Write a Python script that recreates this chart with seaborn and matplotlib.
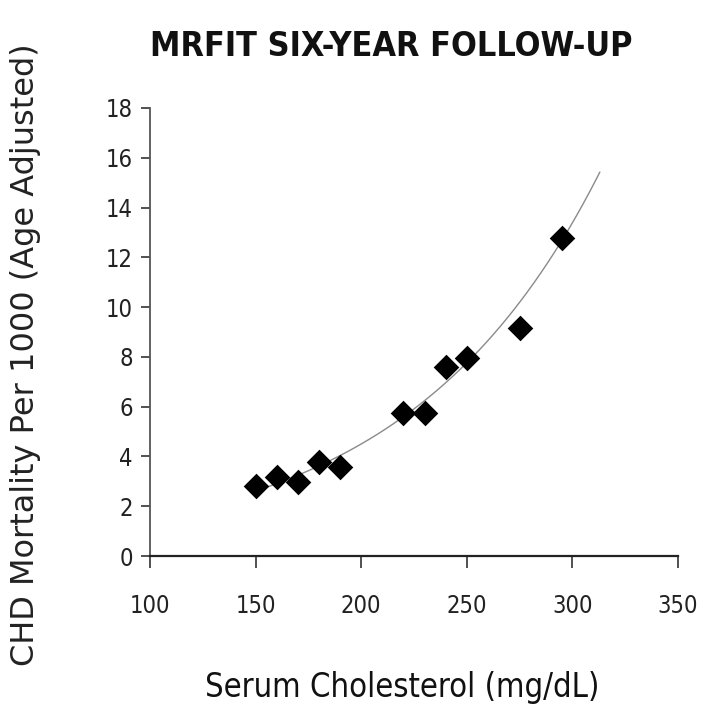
import numpy as np
import pandas as pd
import matplotlib
matplotlib.use("Agg")
import matplotlib.pyplot as plt
import seaborn as sns

# Data
cholesterol = [150, 160, 170, 180, 190, 220, 230, 240, 250, 275, 295]
mortality = [2.8, 3.16, 2.96, 3.79, 3.57, 5.76, 5.74, 7.61, 7.97, 9.18, 12.77]

# Points
curve_x = [150, 190, 220, 250, 275, 295, 313]
curve_y = [2.7, 3.9, 5.6, 7.8, 9.7, 12.77, 16.0]

x_ticks = [100, 150, 200, 250, 300, 350]
y_ticks = [0, 2, 4, 6, 8, 10, 12, 14, 16, 18]

title = "MRFIT SIX-YEAR FOLLOW-UP"
xlabel = "Serum Cholesterol (mg/dL)"
ylabel = "CHD Mortality Per 1000 (Age Adjusted)"

sns.set_theme(style="white")
narrow = ["DejaVu Sans"]
plt.rcParams["font.family"] = narrow
plt.rcParams["font.stretch"] = "condensed"

fig = plt.figure(figsize=(7.01, 7.10), dpi=100)
ax = fig.add_axes([150 / 701, 1 - 556 / 710, (678 - 150) / 701, (556 - 108) / 710])

# Trend curve (exponential fit to curve points)
b, ln_a = np.polyfit(curve_x, np.log(curve_y), 1)
xs = np.linspace(min(curve_x), max(curve_x), 200)
trend = pd.DataFrame({"x": xs, "y": np.exp(ln_a + b * xs)})
sns.lineplot(data=trend, x="x", y="y", ax=ax, color="#8a8a8a", linewidth=1.0)

df = pd.DataFrame({"chol": cholesterol, "mort": mortality})
sns.scatterplot(data=df, x="chol", y="mort", ax=ax, marker="D", s=170,
                color="black", edgecolor="black", linewidth=0, zorder=3)

ax.set_xlim(100, 350)
ax.set_ylim(0, 18)
ax.set_xticks(x_ticks)
ax.set_yticks(y_ticks)
ax.set_xticklabels([str(v) for v in x_ticks], fontsize=17, color="#222222",
                   fontstretch="condensed")
ax.set_yticklabels([str(v) for v in y_ticks], fontsize=17, color="#222222",
                   fontstretch="condensed")
ax.tick_params(axis="x", bottom=True, direction="out", length=8.5, width=1.2,
               color="#333333", pad=19)
ax.tick_params(axis="y", left=True, direction="out", length=6.5, width=1.2,
               color="#333333", pad=6)
ax.set_xlabel("")
ax.set_ylabel("")
for side in ["top", "right"]:
    ax.spines[side].set_visible(False)
ax.spines["left"].set_color("#555555")
ax.spines["left"].set_linewidth(1.3)
ax.spines["bottom"].set_color("#222222")
ax.spines["bottom"].set_linewidth(1.6)
ax.grid(False)

fig.text(391 / 701, 1 - 47 / 710, title, ha="center", va="center",
         fontsize=24.5, fontweight="bold", color="#111111", fontstretch="condensed")
fig.text(402 / 701, 1 - 688 / 710, xlabel, ha="center", va="center",
         fontsize=23.5, color="#111111", fontstretch="condensed")
fig.text(25.5 / 701, 1 - 355 / 710, ylabel, ha="center", va="center", rotation=90,
         fontsize=23, color="#222222", fontstretch="normal")

fig.savefig("out.png", dpi=100, facecolor="white")
